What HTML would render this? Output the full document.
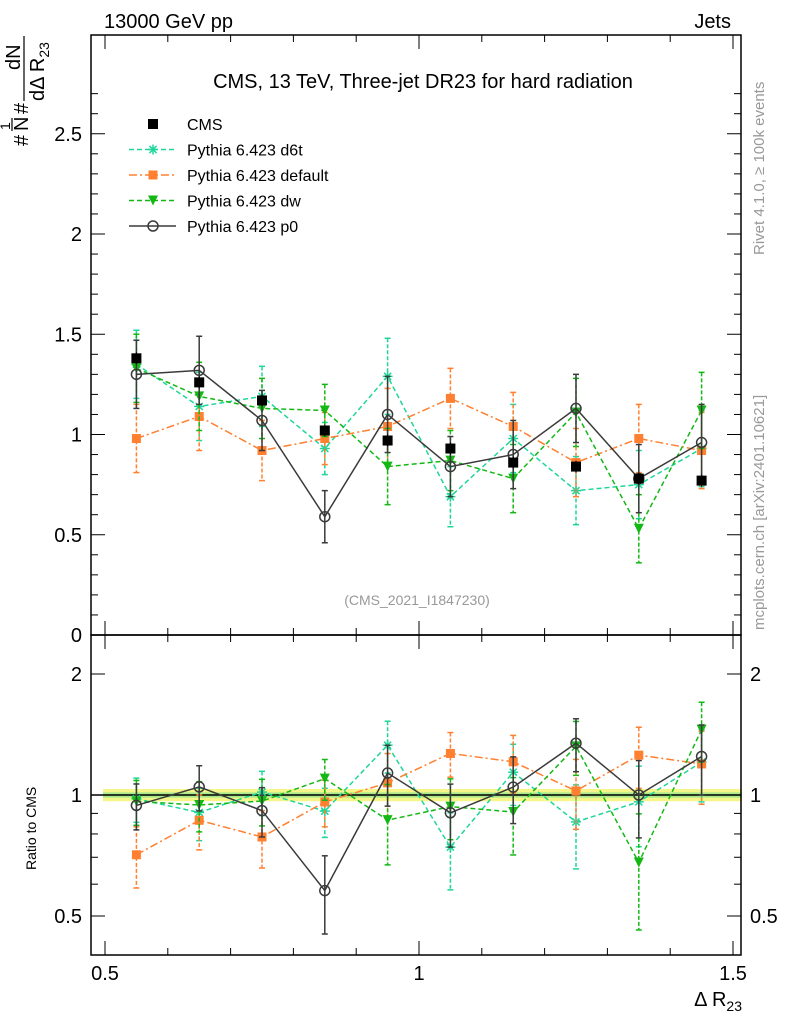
<!DOCTYPE html>
<html><head><meta charset="utf-8"><style>
body{margin:0;background:#fff;}
svg{display:block;font-family:"Liberation Sans",sans-serif;}
</style></head><body>
<svg id="c" width="786" height="1024" viewBox="0 0 786 1024">
<text x="104" y="28" font-size="20">13000 GeV pp</text>
<text x="731" y="28" font-size="20" text-anchor="end">Jets</text>
<text x="423" y="88" font-size="20" text-anchor="middle">CMS, 13 TeV, Three-jet DR23 for hard radiation</text>
<text x="417" y="605" font-size="14" fill="#999" text-anchor="middle">(CMS_2021_I1847230)</text>
<text transform="translate(764,255) rotate(-90)" font-size="15" fill="#999">Rivet 4.1.0, ≥ 100k events</text>
<text transform="translate(764,630) rotate(-90)" font-size="15" fill="#999">mcplots.cern.ch [arXiv:2401.10621]</text>
<g transform="rotate(-90)">
<text x="-146" y="28" font-size="20">#</text>
<text x="-130" y="10" font-size="14">1</text>
<line x1="-131" x2="-118" y1="12" y2="12" stroke="#000" stroke-width="1.2"/>
<text x="-131" y="28" font-size="20">N</text>
<text x="-114" y="28" font-size="20">#</text>
<text x="-70" y="20" font-size="20">dN</text>
<line x1="-101" x2="-36" y1="24" y2="24" stroke="#000" stroke-width="1.2"/>
<text x="-101" y="44" font-size="20">dΔ R<tspan font-size="14" dy="5">23</tspan></text>
</g>
<text transform="translate(36,870) rotate(-90)" font-size="14">Ratio to CMS</text>
<text x="742" y="1006" font-size="20" text-anchor="end">Δ R<tspan font-size="14" dy="5">23</tspan></text>
<g id="g"></g>
</svg>
<script>
const xCenters=[0.55,0.65,0.75,0.85,0.95,1.05,1.15,1.25,1.35,1.45];
const cms=[1.38,1.26,1.17,1.02,0.97,0.93,0.86,0.84,0.78,0.77];
const d6t=[1.35,1.14,1.19,0.93,1.29,0.69,0.98,0.72,0.75,0.93];
const dflt=[0.98,1.09,0.92,0.98,1.04,1.18,1.04,0.86,0.98,0.92];
const dw=[1.33,1.19,1.13,1.12,0.84,0.87,0.78,1.11,0.53,1.12];
const p0=[1.30,1.32,1.07,0.59,1.10,0.84,0.90,1.13,0.78,0.96];
const mcErr=[0.17,0.17,0.15,0.13,0.19,0.15,0.17,0.17,0.17,0.19];
const cmsErr=[0.03,0.03,0.03,0.03,0.03,0.03,0.03,0.03,0.03,0.03];
const mainTicks=[0,0.5,1,1.5,2,2.5];
const ratioTicks=[0.5,1,2];
const xTicks=[0.5,1,1.5];

const NS="http://www.w3.org/2000/svg";
const g=document.getElementById('g');
function el(t,a,p){const e=document.createElementNS(NS,t);for(const k in a)e.setAttribute(k,a[k]);(p||g).appendChild(e);return e;}
const L=91,R=741,T=35,M=635,B=955;
const X=v=>105+(v-0.5)*628;
const Y=v=>635-v*200.5;
const YR=v=>795-121*Math.log2(v);

let band=el('rect',{x:L+12,y:YR(1.035),width:X(1.5)-L-3,height:YR(0.965)-YR(1.035),fill:'#f5f58a'});


let band2=el('rect',{x:L+12,y:YR(1.015),width:X(1.5)-L-3,height:YR(0.985)-YR(1.015),fill:'#a8e88a'});


let one=el('line',{x1:L,x2:R,y1:YR(1),y2:YR(1),stroke:'#000','stroke-width':1.5});



let f1=el('rect',{x:L,y:T,width:R-L,height:M-T,fill:'none',stroke:'#000','stroke-width':1.5});


let f2=el('rect',{x:L,y:M,width:R-L,height:B-M,fill:'none',stroke:'#000','stroke-width':1.5});



for(let i=0;i<=27;i++){const v=i/10;const y=Y(v);if(y<T)break;const big=i%5==0;
 el('line',{x1:L,x2:L+(big?14:7),y1:y,y2:y,stroke:'#000'});el('line',{x1:R,x2:R-(big?14:7),y1:y,y2:y,stroke:'#000'});}
mainTicks.forEach(v=>{const t=el('text',{x:82,y:Y(v)+7,'font-size':20,'text-anchor':'end'});t.textContent=String(v);
 
 });
[0.5,0.6,0.7,0.8,0.9,1,2].forEach(v=>{const big=ratioTicks.includes(v);const y=YR(v);
 el('line',{x1:L,x2:L+(big?14:7),y1:y,y2:y,stroke:'#000'});el('line',{x1:R,x2:R-(big?14:7),y1:y,y2:y,stroke:'#000'});});
ratioTicks.forEach(v=>{[[82,'end'],[750,'start']].forEach(([x,a])=>{const t=el('text',{x:x,y:YR(v)+7,'font-size':20,'text-anchor':a});t.textContent=String(v);
 
 });});
for(let i=5;i<=15;i++){const v=i/10;const x=X(v);const big=i%5==0;
 [[B,-1],[M,1],[M,-1],[T,1]].forEach(([y,d])=>el('line',{x1:x,x2:x,y1:y,y2:y+d*(big?14:7),stroke:'#000'}));}
xTicks.forEach(v=>{const t=el('text',{x:X(v),y:980,'font-size':20,'text-anchor':'middle'});t.textContent=String(v);
 
 });

function marker(type,x,y,c,p){
 if(type=='sq')el('rect',{x:x-5,y:y-5,width:10,height:10,fill:c},p);
 if(type=='sqs')el('rect',{x:x-4.5,y:y-4.5,width:9,height:9,fill:c},p);
 if(type=='tri')el('path',{d:`M${x-5},${y-5}L${x+5},${y-5}L${x},${y+5}Z`,fill:c},p);
 if(type=='circ')el('circle',{cx:x,cy:y,r:5,fill:'none',stroke:c,'stroke-width':1.5},p);
 if(type=='star'){for(let a=0;a<4;a++){const an=a*Math.PI/4;el('line',{x1:x-5*Math.cos(an),y1:y-5*Math.sin(an),x2:x+5*Math.cos(an),y2:y+5*Math.sin(an),stroke:c,'stroke-width':1.5},p);}}
}
const series=[
 {name:'d6t',vals:d6t,c:'#1fd69a',dash:'5,3',m:'star'},
 {name:'default',vals:dflt,c:'#ff8030',dash:'8,3,2,3',m:'sqs'},
 {name:'dw',vals:dw,c:'#14b814',dash:'5,3',m:'tri'},
 {name:'p0',vals:p0,c:'#3a3a3a',dash:'',m:'circ'}];
series.forEach(s=>{
 ['main','ratio'].forEach(panel=>{
  const grp=el('g',{});
  
  
  const vv=s.vals.map((v,i)=>panel=='main'?v:v/cms[i]);
  const ee=s.vals.map((v,i)=>panel=='main'?mcErr[i]:mcErr[i]/cms[i]);
  const F=panel=='main'?Y:YR;
  el('polyline',{points:vv.map((v,i)=>X(xCenters[i])+','+F(v)).join(' '),fill:'none',stroke:s.c,'stroke-width':1.5,'stroke-dasharray':s.dash},grp);
  vv.forEach((v,i)=>{const x=X(xCenters[i]);const y1=F(v+ee[i]),y2=F(Math.max(v-ee[i],0.3));
   el('line',{x1:x,x2:x,y1:y1,y2:y2,stroke:s.c,'stroke-width':1.5,'stroke-dasharray':s.dash?'4,2':''},grp);
   el('line',{x1:x-3,x2:x+3,y1:y1,y2:y1,stroke:s.c,'stroke-width':1.5},grp);
   el('line',{x1:x-3,x2:x+3,y1:y2,y2:y2,stroke:s.c,'stroke-width':1.5},grp);
   marker(s.m,x,F(v),s.c,grp);});
 });
});
const cg=el('g',{});


cms.forEach((v,i)=>{const x=X(xCenters[i]);el('line',{x1:x,x2:x,y1:Y(v+cmsErr[i]),y2:Y(v-cmsErr[i]),stroke:'#000'},cg);marker('sq',x,Y(v),'#000',cg);});

const leg=[['CMS','#000','','sq'],['Pythia 6.423 d6t','#1fd69a','5,3','star'],['Pythia 6.423 default','#ff8030','8,3,2,3','sqs'],['Pythia 6.423 dw','#14b814','5,3','tri'],['Pythia 6.423 p0','#3a3a3a','','circ']];
leg.forEach((l,i)=>{const y=124+i*25.5;const lg=el('g',{});
 
 
 if(i>0)el('line',{x1:129,x2:176,y1:y,y2:y,stroke:l[1],'stroke-width':1.5,'stroke-dasharray':l[2]},lg);
 marker(l[3],153,y,l[1],lg);
 const t=el('text',{x:187,y:y+6,'font-size':16},lg);t.textContent=l[0];});
</script>
</body></html>
